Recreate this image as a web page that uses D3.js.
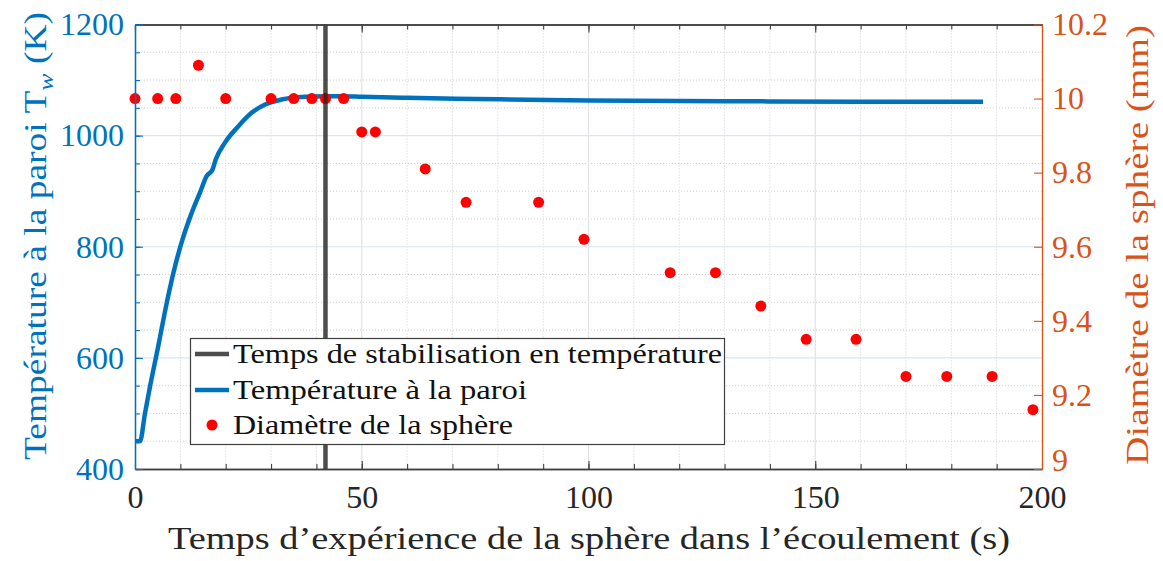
<!DOCTYPE html>
<html>
<head>
<meta charset="utf-8">
<script src="https://cdn.jsdelivr.net/npm/d3@7"></script>
<style>
  html, body { margin: 0; padding: 0; background: #fff; }
  svg { display: block; }
  text { font-family: "Liberation Serif", "DejaVu Serif", serif; }
</style>
</head>
<body>
<svg id="chart" width="1163" height="561"></svg>
<script>
// ---------- DATA ----------
const timeTemp = [0, 1.1, 2.2, 3.3, 5.1, 7.0, 8.8, 10.7, 12.5, 14.3, 15.8, 17.1, 17.8, 19.8, 22.8, 25.7, 28.7, 32.3, 37.5, 42, 46, 50, 60, 75, 100, 130, 160, 187];
const tempWall = [450, 450, 500, 548, 620, 699, 764, 819, 861, 897, 927, 939, 957, 987, 1017, 1041, 1056, 1065, 1070, 1071, 1071, 1070, 1068, 1066, 1063, 1062, 1061, 1061];

const timeDiam = [0, 5, 9, 14, 20, 30, 35, 39, 42, 46, 50, 53, 64, 73, 89, 99, 118, 128, 138, 148, 159, 170, 179, 189, 198];
const diamSphere = [10, 10, 10, 10.09, 10, 10, 10, 10, 10, 10, 9.91, 9.91, 9.81, 9.72, 9.72, 9.62, 9.53, 9.53, 9.44, 9.35, 9.35, 9.25, 9.25, 9.25, 9.16];

const stabTime = [42];

const xTicks = [0, 50, 100, 150, 200];
const xMinorTicks = d3.range(0, 201, 10);
const yLeftTicks = [400, 600, 800, 1000, 1200];
const yLeftMinorTicks = d3.range(400, 1201, 50);
const yRightTicks = [9, 9.2, 9.4, 9.6, 9.8, 10, 10.2];
const yRightLabels = ["9", "9.2", "9.4", "9.6", "9.8", "10", "10.2"];

const legendLabels = ["Temps de stabilisation en température", "Température à la paroi", "Diamètre de la sphère"];

// ---------- LAYOUT ----------
const L = 135, R = 1042, T = 24.5, B = 469;
const blue = "#0072BD", orange = "#D95319", dark = "#262626", red = "#FF0000";
const SERIF = "Liberation Serif, DejaVu Serif, serif";

const svg = d3.select("#chart");
const x = d3.scaleLinear().domain([0, 200]).range([L, R]);
const yL = d3.scaleLinear().domain([400, 1200]).range([B, T]);
const yR = d3.scaleLinear().domain([9, 10.2]).range([B, T]);

// ---------- GRID ----------
const grid = svg.append("g");
grid.selectAll(".vmin").data(xMinorTicks.filter(d => d % 50 !== 0)).enter().append("line")
  .attr("x1", d => x(d)).attr("x2", d => x(d)).attr("y1", T).attr("y2", B)
  .attr("stroke", "#cfcfcf").attr("stroke-width", 1).attr("stroke-dasharray", "1,2");
grid.selectAll(".hmin").data(yLeftMinorTicks.filter(d => d % 200 !== 0)).enter().append("line")
  .attr("x1", L).attr("x2", R).attr("y1", d => yL(d)).attr("y2", d => yL(d))
  .attr("stroke", "#cfcfcf").attr("stroke-width", 1).attr("stroke-dasharray", "1,2");
grid.selectAll(".vmaj").data(xTicks.slice(1, -1)).enter().append("line")
  .attr("x1", d => x(d)).attr("x2", d => x(d)).attr("y1", T).attr("y2", B)
  .attr("stroke", "#e2e2e2").attr("stroke-width", 1.2);
grid.selectAll(".hmaj").data(yLeftTicks.slice(1, -1)).enter().append("line")
  .attr("x1", L).attr("x2", R).attr("y1", d => yL(d)).attr("y2", d => yL(d))
  .attr("stroke", "#d6e8f5").attr("stroke-width", 1.2);

// ---------- DATA MARKS ----------
const line = d3.line().x((d, i) => x(timeTemp[i])).y(d => yL(d)).curve(d3.curveMonotoneX);
svg.append("path").datum(tempWall).attr("d", line)
  .attr("fill", "none").attr("stroke", blue).attr("stroke-width", 4.5).attr("stroke-linejoin", "round");

svg.append("g").selectAll("circle").data(diamSphere).enter().append("circle")
  .attr("cx", (d, i) => x(timeDiam[i])).attr("cy", d => yR(d)).attr("r", 5.5).attr("fill", red);

svg.append("g").selectAll("line").data(stabTime).enter().append("line")
  .attr("x1", d => x(d)).attr("x2", d => x(d)).attr("y1", T).attr("y2", B)
  .attr("stroke", "#262626").attr("stroke-opacity", 0.82).attr("stroke-width", 4.5);

// ---------- AXES ----------
function styleAxis(g, color) {
  g.attr("font-family", SERIF).attr("font-size", 32);
  g.selectAll("path.domain").attr("stroke", color).attr("stroke-width", 1.3);
  g.selectAll(".tick line").attr("stroke", color).attr("stroke-width", 1.1);
  g.selectAll(".tick text").attr("fill", color);
}

// bottom minor + major
const gBm = svg.append("g").attr("transform", `translate(0,${B})`)
  .call(d3.axisBottom(x).tickValues(xMinorTicks).tickSizeInner(-5).tickSizeOuter(0).tickFormat(""));
styleAxis(gBm, "#404040");
const gB = svg.append("g").attr("transform", `translate(0,${B})`)
  .call(d3.axisBottom(x).tickValues(xTicks).tickSizeInner(-8).tickSizeOuter(0).tickPadding(16).tickFormat(d3.format("d")));
styleAxis(gB, "#404040");
gB.selectAll(".tick text").attr("fill", dark);
gB.selectAll(".tick").filter(d => d === 0 || d === 200).select("line").remove();

// top
const gTm = svg.append("g").attr("transform", `translate(0,${T})`)
  .call(d3.axisTop(x).tickValues(xMinorTicks).tickSizeInner(-5).tickSizeOuter(0).tickFormat(""));
styleAxis(gTm, "#404040");
const gT = svg.append("g").attr("transform", `translate(0,${T})`)
  .call(d3.axisTop(x).tickValues(xTicks).tickSizeInner(-8).tickSizeOuter(0).tickFormat(""));
styleAxis(gT, "#404040");

// left
const gLm = svg.append("g").attr("transform", `translate(${L},0)`)
  .call(d3.axisLeft(yL).tickValues(yLeftMinorTicks).tickSizeInner(-5).tickSizeOuter(0).tickFormat(""));
styleAxis(gLm, blue);
const gL = svg.append("g").attr("transform", `translate(${L},0)`)
  .call(d3.axisLeft(yL).tickValues(yLeftTicks).tickSizeInner(-8).tickSizeOuter(0).tickPadding(11).tickFormat(d3.format("d")));
styleAxis(gL, blue);

// right
const gR = svg.append("g").attr("transform", `translate(${R},0)`)
  .call(d3.axisRight(yR).tickValues(yRightTicks).tickSizeInner(-8).tickSizeOuter(0).tickPadding(10)
    .tickFormat((d, i) => yRightLabels[i]));
styleAxis(gR, orange);
gR.selectAll(".tick").filter(d => d === 9).select("text").attr("dy", "0.05em");

// ---------- AXIS TITLES ----------
svg.append("text")
  .attr("x", 168).attr("y", 549)
  .attr("fill", dark)
  .attr("font-size", 32)
  .attr("textLength", 842).attr("lengthAdjust", "spacingAndGlyphs")
  .text("Temps d’expérience de la sphère dans l’écoulement (s)");

const lt = svg.append("text")
  .attr("transform", "translate(46,460) rotate(-90)")
  .attr("fill", blue)
  .attr("font-size", 32)
  .attr("textLength", 448).attr("lengthAdjust", "spacingAndGlyphs");
lt.append("tspan").text("Température à la paroi T");
lt.append("tspan").attr("dy", 7).attr("font-size", 22).attr("font-style", "italic").text("w");
lt.append("tspan").attr("dy", -7).text(" (K)");

svg.append("text")
  .attr("transform", "translate(1148,465) rotate(-90)")
  .attr("fill", orange)
  .attr("font-size", 32)
  .attr("textLength", 440).attr("lengthAdjust", "spacingAndGlyphs")
  .text("Diamètre de la sphère (mm)");

// ---------- LEGEND ----------
const lg = svg.append("g");
lg.append("rect").attr("x", 190.5).attr("y", 338.5).attr("width", 534).attr("height", 106)
  .attr("fill", "#fff").attr("stroke", "#404040").attr("stroke-width", 1.2);
const legY = [354, 390, 425];
const legW = [489, 294, 280];
lg.append("line").attr("x1", 195).attr("x2", 229).attr("y1", legY[0]).attr("y2", legY[0])
  .attr("stroke", "#262626").attr("stroke-opacity", 0.82).attr("stroke-width", 4.5);
lg.append("line").attr("x1", 195).attr("x2", 229).attr("y1", legY[1]).attr("y2", legY[1])
  .attr("stroke", blue).attr("stroke-width", 4.5);
lg.append("circle").attr("cx", 212).attr("cy", legY[2]).attr("r", 5.5).attr("fill", red);
lg.selectAll("text.leg").data(legendLabels).enter().append("text")
  .attr("x", 233).attr("y", (d, i) => legY[i] + 9)
  .attr("fill", "#111").attr("font-size", 27)
  .attr("textLength", (d, i) => legW[i]).attr("lengthAdjust", "spacingAndGlyphs")
  .text(d => d);
</script>
</body>
</html>
